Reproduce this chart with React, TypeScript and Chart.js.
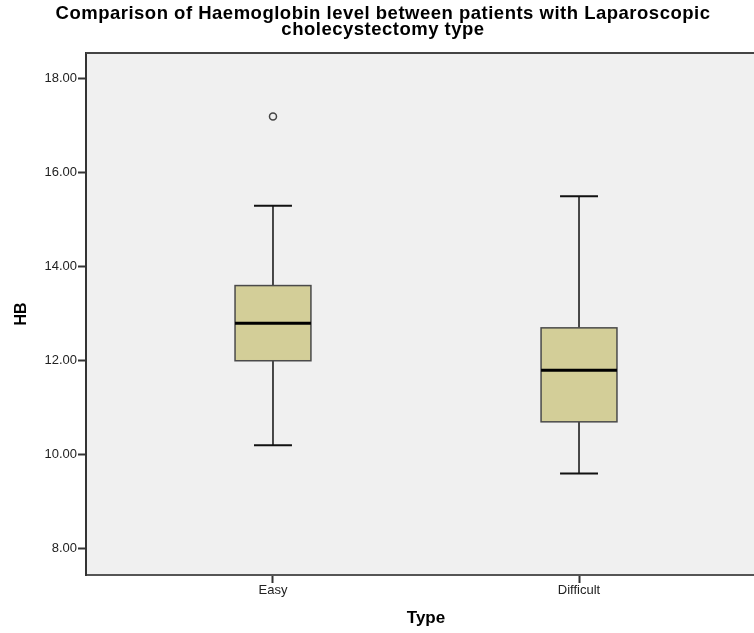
import React, { useEffect, useRef } from 'react';
import { Chart, registerables } from 'chart.js';

Chart.register(...registerables);

const categories = ['Easy', 'Difficult'];
const whiskerLow = [10.2, 9.6];
const q1Values = [12.0, 10.7];
const medianValues = [12.8, 11.8];
const q3Values = [13.6, 12.7];
const whiskerHigh = [15.3, 15.5];
const outlierCategories = ['Easy'];
const outlierValues = [17.2];
const yTickValues = [8, 10, 12, 14, 16, 18];

const FONT = "'Liberation Sans', Arial, sans-serif";

const boxPlugin = {
  id: 'boxPlugin',
  afterLayout(chart: any) {
    const t = chart.titleBlock;
    if (t && !t.__spaced) {
      const orig = t.draw.bind(t);
      t.draw = (...args: any[]) => {
        const ctx = chart.ctx;
        ctx.save();
        try {
          (ctx as any).letterSpacing = '0.5px';
        } catch (e) {
          /* ignore */
        }
        orig(...args);
        ctx.restore();
      };
      t.__spaced = true;
    }
  },
  beforeDraw(chart: any) {
    const { ctx, chartArea } = chart;
    ctx.save();
    ctx.fillStyle = '#f0f0f0';
    ctx.fillRect(chartArea.left, chartArea.top, chartArea.right - chartArea.left, chartArea.bottom - chartArea.top);
    ctx.restore();
  },
  beforeDatasetsDraw(chart: any) {
    const { ctx, scales } = chart;
    const x = scales.x;
    const y = scales.y;
    const spacing = x.getPixelForValue(2) - x.getPixelForValue(1);
    const halfBox = spacing * 0.124;
    const halfCap = spacing * 0.062;
    ctx.save();
    categories.forEach((_, i) => {
      const cx = x.getPixelForValue(i + 1);
      const yLo = y.getPixelForValue(whiskerLow[i]);
      const yQ1 = y.getPixelForValue(q1Values[i]);
      const yMed = y.getPixelForValue(medianValues[i]);
      const yQ3 = y.getPixelForValue(q3Values[i]);
      const yHi = y.getPixelForValue(whiskerHigh[i]);
      ctx.strokeStyle = '#111';
      ctx.lineWidth = 1.5;
      ctx.beginPath();
      ctx.moveTo(cx, yHi);
      ctx.lineTo(cx, yQ3);
      ctx.moveTo(cx, yQ1);
      ctx.lineTo(cx, yLo);
      ctx.stroke();
      ctx.lineWidth = 2;
      ctx.beginPath();
      ctx.moveTo(cx - halfCap, yHi);
      ctx.lineTo(cx + halfCap, yHi);
      ctx.moveTo(cx - halfCap, yLo);
      ctx.lineTo(cx + halfCap, yLo);
      ctx.stroke();
      ctx.fillStyle = '#d3ce98';
      ctx.fillRect(cx - halfBox, yQ3, halfBox * 2, yQ1 - yQ3);
      ctx.strokeStyle = '#4a4a4a';
      ctx.lineWidth = 1.5;
      ctx.strokeRect(cx - halfBox, yQ3, halfBox * 2, yQ1 - yQ3);
      ctx.strokeStyle = '#000';
      ctx.lineWidth = 3;
      ctx.beginPath();
      ctx.moveTo(cx - halfBox, yMed);
      ctx.lineTo(cx + halfBox, yMed);
      ctx.stroke();
    });
    ctx.restore();
  },
  afterDraw(chart: any) {
    const { ctx, chartArea } = chart;
    ctx.save();
    ctx.strokeStyle = '#444';
    ctx.lineWidth = 2;
    ctx.beginPath();
    ctx.moveTo(chartArea.left, chartArea.top);
    ctx.lineTo(chartArea.right, chartArea.top);
    ctx.moveTo(chartArea.right, chartArea.top);
    ctx.lineTo(chartArea.right, chartArea.bottom);
    ctx.stroke();
    ctx.restore();
  },
};

export default function App() {
  const canvasRef = useRef<HTMLCanvasElement | null>(null);

  useEffect(() => {
    if (!canvasRef.current) return;
    const outlierData = outlierCategories.map((c, i) => ({
      x: categories.indexOf(c) + 1,
      y: outlierValues[i],
    }));
    const chart = new Chart(canvasRef.current, {
      type: 'scatter',
      data: {
        datasets: [
          {
            label: 'Outliers',
            data: outlierData,
            pointRadius: 3.5,
            pointBorderWidth: 1.5,
            pointBorderColor: '#444',
            pointBackgroundColor: 'rgba(0,0,0,0)',
            pointHoverRadius: 3.5,
          },
        ],
      },
      options: {
        responsive: false,
        animation: false,
        devicePixelRatio: 1,
        layout: { autoPadding: false, padding: { top: 0, right: 14, bottom: 0, left: 0 } },
        plugins: {
          legend: { display: false },
          tooltip: { enabled: false },
          title: {
            display: true,
            fullSize: true,
            text: [
              'Comparison of Haemoglobin level between patients with Laparoscopic',
              'cholecystectomy type',
            ],
            color: '#000',
            font: { family: FONT, size: 18.5, weight: 'bold', lineHeight: 0.87 },
            padding: { top: 6, bottom: 14.8 },
          },
        },
        scales: {
          x: {
            type: 'linear',
            min: 0.389,
            max: 2.611,
            afterBuildTicks: (scale: any) => {
              scale.ticks = categories.map((_, i) => ({ value: i + 1 }));
            },
            afterFit: (scale: any) => {
              scale.height = 58;
            },
            ticks: {
              autoSkip: false,
              maxRotation: 0,
              padding: 0,
              color: '#222',
              font: { family: FONT, size: 13 },
              callback: (v: any) => categories[Math.round(v) - 1] ?? '',
            },
            grid: {
              drawOnChartArea: false,
              drawTicks: true,
              tickLength: 8,
              tickColor: '#333',
              tickWidth: 2,
            },
            border: { display: true, color: '#555', width: 2 },
            title: {
              display: true,
              text: 'Type',
              color: '#000',
              font: { family: FONT, size: 17, weight: 'bold' },
              padding: { top: 0, bottom: 4 },
            },
          },
          y: {
            type: 'linear',
            min: 7.44,
            max: 18.55,
            afterBuildTicks: (scale: any) => {
              scale.ticks = yTickValues.map((v) => ({ value: v }));
            },
            afterFit: (scale: any) => {
              scale.width = 86;
            },
            ticks: {
              padding: 1,
              color: '#222',
              font: { family: FONT, size: 13 },
              callback: (v: any) => Number(v).toFixed(2),
            },
            grid: {
              drawOnChartArea: false,
              drawTicks: true,
              tickLength: 8,
              tickColor: '#333',
              tickWidth: 2,
            },
            border: { display: true, color: '#333', width: 2 },
            title: {
              display: true,
              text: 'HB',
              color: '#000',
              font: { family: FONT, size: 16, weight: 'bold' },
              padding: { top: 11.5, bottom: 0 },
            },
          },
        },
      },
      plugins: [boxPlugin],
    });
    return () => chart.destroy();
  }, []);

  return (
    <div style={{ position: 'absolute', left: 0, top: 0, width: 754, height: 633, overflow: 'hidden', background: '#fff' }}>
      <canvas ref={canvasRef} width={780} height={633} style={{ display: 'block' }} />
    </div>
  );
}
